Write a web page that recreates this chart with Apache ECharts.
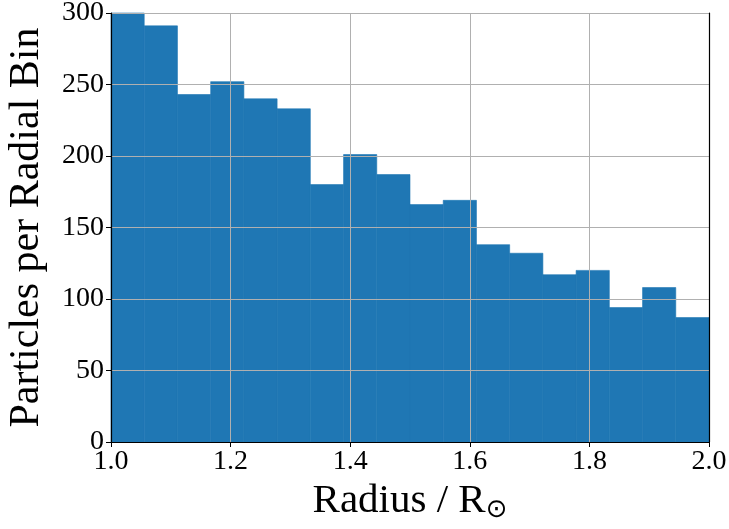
<!DOCTYPE html>
<html><head><meta charset="utf-8">
<script src="https://cdn.jsdelivr.net/npm/echarts@6/dist/echarts.min.js"></script>
<style>html,body{margin:0;padding:0;background:#fff}#c{width:729px;height:529px}</style>
</head><body><div id="c"></div>
<script>
const binStart = 1.0;
const binEnd = 2.0;
const counts = [300, 291, 243, 252, 240, 233, 180, 201, 187, 166, 169, 138, 132, 117, 120, 94, 108, 87];
const xTicks = [1.0, 1.2, 1.4, 1.6, 1.8, 2.0];
const yTicks = [0, 50, 100, 150, 200, 250, 300];

const w = (binEnd - binStart) / counts.length;
const data = counts.map((c, i) => [binStart + i * w, binStart + (i + 1) * w, c]);
const FONT = '"Liberation Serif", "DejaVu Serif", serif';
const frame = {show: true, lineStyle: {color: '#000', width: 1.2}};

const chart = echarts.init(document.getElementById('c'), null, {renderer: 'canvas'});
chart.setOption({
  animation: false,
  grid: {left: 111, right: 20, top: 13, bottom: 87, containLabel: false, outerBoundsMode: 'none'},
  xAxis: [{
    type: 'value', min: xTicks[0], max: xTicks[xTicks.length - 1], interval: 0.2, z: 5,
    axisLine: frame,
    axisTick: {show: true, length: 5, inside: false, lineStyle: {color: '#000', width: 1}},
    axisLabel: {fontFamily: FONT, fontSize: 28, color: '#000', margin: 6, formatter: v => v.toFixed(1)},
    splitLine: {show: true, lineStyle: {color: '#b0b0b0', width: 1}},
    name: 'Radius / R{s|⊙}', nameLocation: 'middle', nameGap: 36,
    nameTextStyle: {fontFamily: FONT, fontSize: 41, color: '#000',
      rich: {s: {fontFamily: '"DejaVu Sans", sans-serif', fontSize: 26, color: '#000', verticalAlign: 'bottom', padding: [18, 0, 0, 0]}}}
  }, {
    type: 'value', position: 'top', min: 1.0, max: 2.0, z: 6,
    axisLine: frame, axisTick: {show: false}, axisLabel: {show: false}, splitLine: {show: false}
  }],
  yAxis: [{
    type: 'value', min: yTicks[0], max: yTicks[yTicks.length - 1], interval: 50, z: 5,
    axisLine: frame,
    axisTick: {show: true, length: 5, lineStyle: {color: '#000', width: 1}},
    axisLabel: {fontFamily: FONT, fontSize: 28, color: '#000', margin: 7},
    splitLine: {show: true, lineStyle: {color: '#b0b0b0', width: 1}},
    name: 'Particles per Radial Bin', nameLocation: 'middle', nameGap: 63,
    nameTextStyle: {fontFamily: FONT, fontSize: 42, color: '#000'}
  }, {
    type: 'value', position: 'right', min: 0, max: 300, z: 6,
    axisLine: frame, axisTick: {show: false}, axisLabel: {show: false}, splitLine: {show: false}
  }],
  series: [{
    type: 'custom',
    data: data,
    z: 1,
    renderItem: function (params, api) {
      const p0 = api.coord([api.value(0), api.value(2)]);
      const p1 = api.coord([api.value(1), 0]);
      return {type: 'rect', shape: {x: p0[0], y: p0[1], width: p1[0] - p0[0], height: p1[1] - p0[1]},
        style: {fill: '#1f77b4', stroke: '#1f77b4', lineWidth: 0.6}};
    },
    encode: {x: [0, 1], y: 2}
  }]
});
</script></body></html>
